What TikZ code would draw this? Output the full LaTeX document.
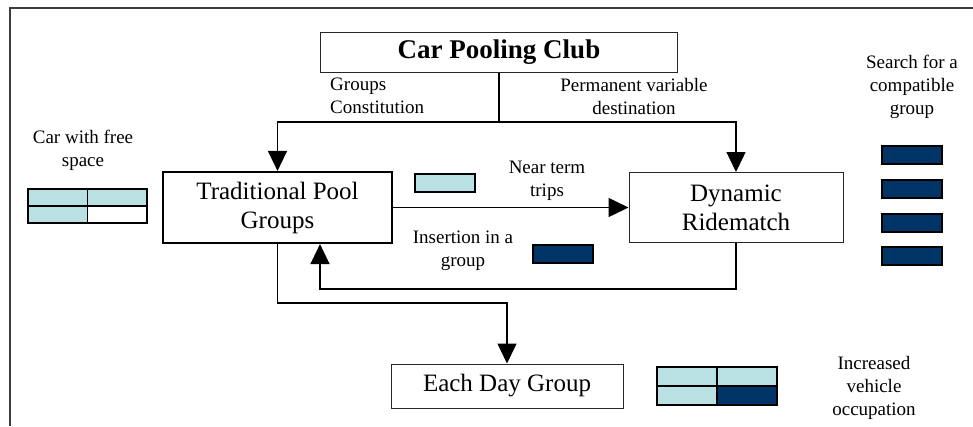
\documentclass[tikz,border=0pt]{standalone}
\usepackage{fontspec}
\setmainfont{Liberation Serif}
\usetikzlibrary{arrows.meta}
\definecolor{lightcyan}{RGB}{185,224,227}
\definecolor{navy}{RGB}{0,51,102}
\definecolor{framegray}{RGB}{60,60,60}
\tikzset{
  boxthin/.style={draw=black!85, line width=1pt, fill=white, inner sep=0pt, align=center, font=\fontsize{25}{29}\selectfont},
  boxthick/.style={draw=black, line width=2.2pt, fill=white, inner sep=0pt, align=center, font=\fontsize{25}{29}\selectfont},
  lbl/.style={inner sep=0pt, align=center, font=\fontsize{19}{23}\selectfont},
  conn/.style={draw=black, line width=1.5pt},
  arr/.style={conn, -{Triangle[width=19pt,length=20pt]}},
  lightcell/.style={draw=black, line width=1.8pt, fill=lightcyan},
  darkcell/.style={draw=black, line width=1.8pt, fill=navy},
  whitecell/.style={draw=black, line width=1.8pt, fill=white}
}
\begin{document}
\begin{tikzpicture}[x=1pt,y=-1pt]
\useasboundingbox (0,0) rectangle (973,426);
% frame
\draw[framegray, line width=1.5pt] (10,426) -- (10,8) -- (973,8);

% boxes
\node[boxthin, minimum width=357pt, minimum height=40pt, font=\fontsize{27}{31}\selectfont\bfseries] (club) at (499,52) {Car Pooling Club};
\node[boxthick, minimum width=229pt, minimum height=71pt] (trad) at (277.5,207.5) {Traditional Pool\\Groups};
\node[boxthin, minimum width=214pt, minimum height=70pt] (dyn) at (736,207.5) {Dynamic\\Ridematch};
\node[boxthin, minimum width=232pt, minimum height=44pt] (each) at (507,386) {Each Day Group};

% labels
\node[lbl, align=left, anchor=west] (lgc) at (330,96) {Groups\\Constitution};
\node[lbl] (lpv) at (634,96) {Permanent variable\\destination};
\node[lbl] (lnt) at (547,181) {Near term\\trips};
\node[lbl] (lins) at (463,251) {Insertion in a\\group};
\node[lbl] (lcar) at (83,150) {Car with free\\space};
\node[lbl] (lsearch) at (912,87) {Search for a\\compatible\\group};
\node[lbl] (linc) at (874,388) {Increased\\vehicle\\occupation};

% connectors
\coordinate (j) at (499,122);
\coordinate (r1) at (320,289);
\coordinate (e1) at (0,303);
\draw[conn] (club.south) -- (j);
\draw[arr] (j) -| (trad.north);
\draw[arr] (j) -| (dyn.north);
\draw[arr] (trad.east) -- (dyn.west);
\draw[arr] (dyn.south) |- (r1) -- (r1 |- trad.south);
\draw[arr] (trad.south) -- (trad.south |- e1) -| (each.north);

% small rectangles
\draw[lightcell] (415,174) rectangle (475,192);
\draw[darkcell] (533,245) rectangle (593,263);
\foreach \yy in {146,180,214,247}{
  \draw[darkcell] (882,\yy) rectangle (942,\yy+18);
}

% car with free space icon
\draw[lightcell] (28,189) rectangle (87.5,206);
\draw[lightcell] (87.5,189) rectangle (147,206);
\draw[lightcell] (28,206) rectangle (87.5,223);
\draw[whitecell] (87.5,206) rectangle (147,223);

% increased occupation icon
\draw[lightcell] (657,367) rectangle (717,386);
\draw[lightcell] (717,367) rectangle (777,386);
\draw[lightcell] (657,386) rectangle (717,405);
\draw[darkcell] (717,386) rectangle (777,405);
\end{tikzpicture}
\end{document}
